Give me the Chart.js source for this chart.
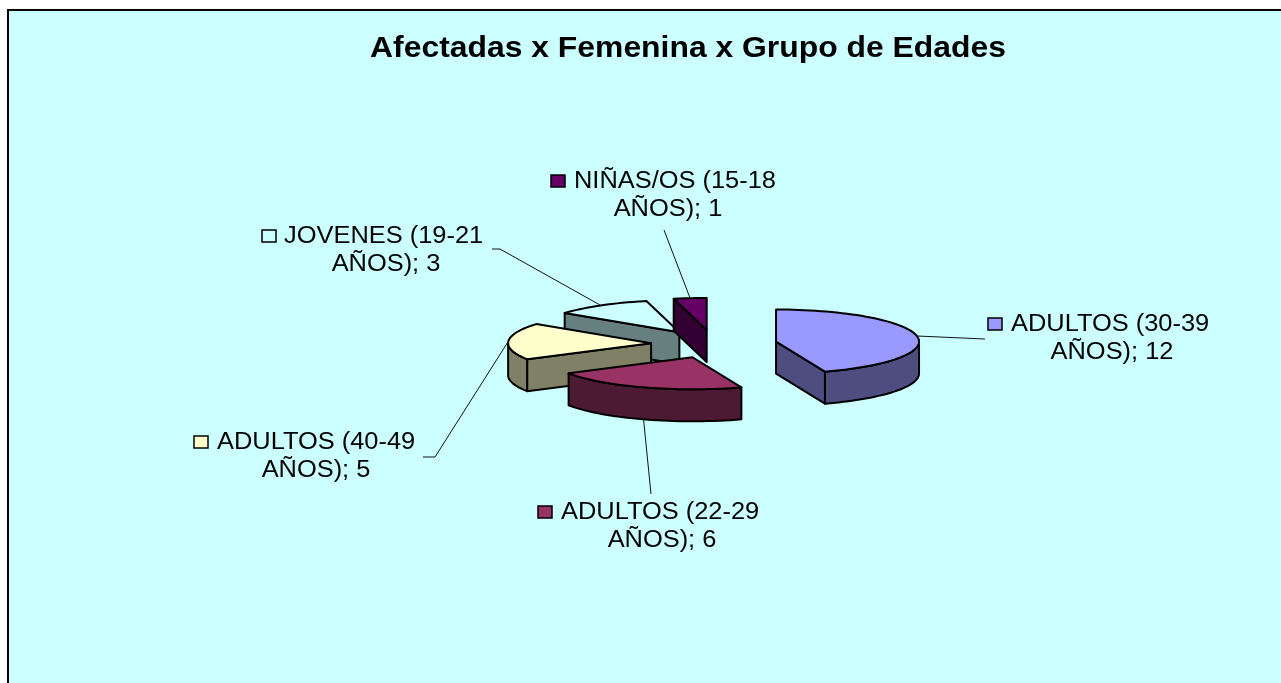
<!DOCTYPE html>
<html>
<head>
<meta charset="utf-8">
<title>Afectadas x Femenina x Grupo de Edades</title>
<script src="https://cdn.jsdelivr.net/npm/chart.js@4"></script>
<style>
  html, body { margin: 0; padding: 0; background: #fff; overflow: hidden; }
  canvas { display: block; }
</style>
</head>
<body>
<canvas id="pieChart" width="1281" height="683"></canvas>
<script>
var chartTitle = "Afectadas x Femenina x Grupo de Edades";
var categories = ["ADULTOS (30-39 AÑOS)", "ADULTOS (22-29 AÑOS)", "ADULTOS (40-49 AÑOS)", "JOVENES (19-21 AÑOS)", "NIÑAS/OS (15-18 AÑOS)"];
var values = [12, 6, 5, 3, 1];
var topColors = ["#9999ff", "#993366", "#ffffcc", "#ccffff", "#660066"];
var wallColors = ["#4d4d80", "#4d1a33", "#808066", "#668080", "#330033"];

// painted back to front
var drawOrder = [3, 4, 2, 0, 1];

// where each label sits: key box, text start, first baseline, second line center, leader end
var labelLayout = [
  { keyX: 988, textX: 1011, y: 331, center: 1112, leader: [[985, 339]] },
  { keyX: 538, textX: 561, y: 519, center: 662, leader: [[651, 494]] },
  { keyX: 194, textX: 217, y: 449, center: 316, leader: [[435, 457], [423, 457]] },
  { keyX: 262, textX: 284, y: 243, center: 386, leader: [[500, 249], [492, 249]] },
  { keyX: 551, textX: 574, y: 188, center: 668, leader: [[664, 230]] },
];

var centerX = 714;
var centerY = 344;
var squash = 0.224;
var wallHeight = 32;
var explode = 63;
var radius = 143;
var titleCenter = 688;
var titleStretch = 1.099;
var labelStretch = 1.105;

function apex(arc) {
  var mid = (arc.startAngle + arc.endAngle) / 2;
  return { x: centerX + Math.cos(mid) * explode, y: centerY + Math.sin(mid) * explode * squash };
}

function rim(p, angle) {
  return { x: p.x + Math.cos(angle) * radius, y: p.y + Math.sin(angle) * radius * squash };
}

function drawFace(ctx, points, fill) {
  ctx.beginPath();
  points.forEach(function (p, i) {
    if (i === 0) ctx.moveTo(p.x, p.y);
    else ctx.lineTo(p.x, p.y);
  });
  for (var i = points.length - 1; i >= 0; i--) {
    ctx.lineTo(points[i].x, points[i].y + wallHeight);
  }
  ctx.closePath();
  ctx.fillStyle = fill;
  ctx.fill();
  ctx.stroke();
}

function drawSlice(ctx, arc, index) {
  var p = apex(arc);
  ctx.save();
  ctx.strokeStyle = "#000";
  ctx.lineWidth = 2;
  ctx.lineJoin = "round";

  // walls that face the viewer
  var from = Math.max(arc.startAngle, 0);
  var to = Math.min(arc.endAngle, Math.PI);
  if (from < to) {
    var points = [];
    for (var a = from; a < to; a += 0.04) points.push(rim(p, a));
    points.push(rim(p, to));
    drawFace(ctx, points, wallColors[index]);
  }
  if (Math.cos(arc.startAngle) < -0.001) drawFace(ctx, [p, rim(p, arc.startAngle)], wallColors[index]);
  if (Math.cos(arc.endAngle) > 0.001) drawFace(ctx, [rim(p, arc.endAngle), p], wallColors[index]);

  // the slice itself, flattened and pulled out by the transform
  ctx.save();
  ctx.translate(p.x, p.y);
  ctx.scale(1, squash);
  ctx.translate(-arc.x, -arc.y);
  arc.draw(ctx);
  ctx.restore();

  // outline in screen space so the line keeps its width
  ctx.beginPath();
  ctx.moveTo(p.x, p.y);
  for (var b = arc.startAngle; b < arc.endAngle; b += 0.04) {
    var q = rim(p, b);
    ctx.lineTo(q.x, q.y);
  }
  var last = rim(p, arc.endAngle);
  ctx.lineTo(last.x, last.y);
  ctx.closePath();
  ctx.stroke();
  ctx.restore();
}

function stretchedText(ctx, text, x, y) {
  ctx.save();
  ctx.translate(x, y);
  ctx.scale(labelStretch, 1);
  ctx.fillText(text, 0, 0);
  ctx.restore();
}

function drawLabel(ctx, arc, index) {
  var layout = labelLayout[index];
  var mid = (arc.startAngle + arc.endAngle) / 2;
  var start = rim(apex(arc), mid);
  if (Math.sin(mid) > 0.5) start.y += wallHeight;

  ctx.save();
  ctx.strokeStyle = "#111";
  ctx.lineWidth = 1;
  ctx.beginPath();
  ctx.moveTo(start.x, start.y);
  layout.leader.forEach(function (pt) { ctx.lineTo(pt[0], pt[1]); });
  ctx.stroke();

  var parts = categories[index].split(" AÑOS");
  var line2 = "AÑOS" + parts[1] + "; " + values[index];

  ctx.fillStyle = topColors[index];
  ctx.strokeStyle = "#000";
  ctx.lineWidth = 1.5;
  ctx.fillRect(layout.keyX, layout.y - 13, 14, 12);
  ctx.strokeRect(layout.keyX, layout.y - 13, 14, 12);

  ctx.fillStyle = "#000";
  ctx.font = "23px 'Liberation Sans'";
  ctx.textBaseline = "alphabetic";
  ctx.textAlign = "left";
  stretchedText(ctx, parts[0], layout.textX, layout.y);
  ctx.textAlign = "center";
  stretchedText(ctx, line2, layout.center, layout.y + 28);
  ctx.restore();
}

var piePlugin = {
  id: "flatPie",
  beforeDraw: function (chart) {
    var ctx = chart.ctx;
    ctx.save();
    ctx.fillStyle = "#ccffff";
    ctx.fillRect(8, 10, chart.width, chart.height);
    ctx.strokeStyle = "#000";
    ctx.lineWidth = 2;
    ctx.beginPath();
    ctx.moveTo(8, chart.height);
    ctx.lineTo(8, 10);
    ctx.lineTo(chart.width, 10);
    ctx.stroke();
    ctx.restore();

    // the title box is drawn right after this hook, widen it like the original
    ctx.save();
    ctx.translate(titleCenter, 0);
    ctx.scale(titleStretch, 1);
    ctx.translate(-titleCenter, 0);
  },
  beforeDatasetsDraw: function (chart) {
    var ctx = chart.ctx;
    ctx.restore();
    var arcs = chart.getDatasetMeta(0).data;
    drawOrder.forEach(function (i) { drawSlice(ctx, arcs[i], i); });
    arcs.forEach(function (arc, i) { drawLabel(ctx, arc, i); });
    return false;
  },
};

window.addEventListener("DOMContentLoaded", function () {
  var ctx = document.getElementById("pieChart").getContext("2d");
  new Chart(ctx, {
    type: "pie",
    data: {
      labels: categories,
      datasets: [
        {
          data: values,
          backgroundColor: topColors,
          borderWidth: 0,
          radius: radius,
        },
      ],
    },
    options: {
      responsive: false,
      animation: false,
      layout: { padding: { left: 95 } },
      plugins: {
        legend: { display: false },
        tooltip: { enabled: false },
        title: {
          display: true,
          text: chartTitle,
          color: "#000",
          font: { family: "'Liberation Sans'", size: 29, weight: "bold" },
          padding: { top: 32, bottom: 10 },
        },
      },
    },
    plugins: [piePlugin],
  });
});
</script>
</body>
</html>
